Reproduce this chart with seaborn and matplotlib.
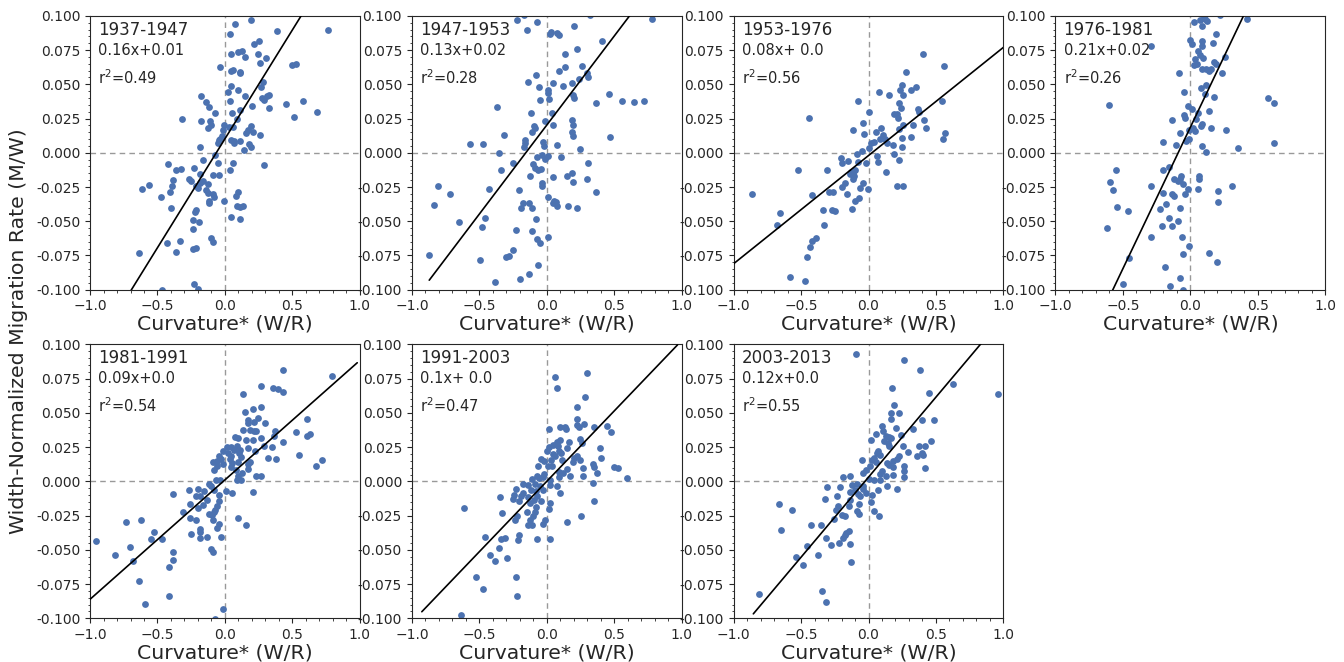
import numpy as np
import pandas as pd
import seaborn as sns
import matplotlib.pyplot as plt
from matplotlib.ticker import MultipleLocator

# periods and fit text
periods = ['1937-1947', '1947-1953', '1953-1976', '1976-1981', '1981-1991', '1991-2003', '2003-2013']
equations = ['0.16x+0.01', '0.13x+0.02', '0.08x+ 0.0', '0.21x+0.02', '0.09x+0.0', '0.1x+ 0.0', '0.12x+0.0']
r2_values = ['0.49', '0.28', '0.56', '0.26', '0.54', '0.47', '0.55']

# regression lines (slope, intercept) and the x span they cover
slopes = [0.159, 0.130, 0.079, 0.2065, 0.0872, 0.1028, 0.1169]
intercepts = [0.0102, 0.0202, -0.002, 0.0186, 0.0011, 0.0, 0.0031]
fit_xmin = [-1.0, -0.871, -1.0, -1.0, -1.0, -0.926, -0.854]
fit_xmax = [1.0, 0.782, 1.0, 1.0, 0.981, 0.97, 0.96]

# (curvature, migration rate) points per period
pts_1937 = [
    (0.193, 0.0968), (0.077, 0.094), (0.04, 0.087), (0.387, 0.089), (0.766, 0.0895), (0.218, 0.0796),
    (0.255, 0.0818), (0.045, 0.0725), (0.099, 0.0735), (0.124, 0.0747), (0.151, 0.0703), (0.243, 0.0725),
    (0.302, 0.0689), (0.263, 0.0657), (-0.035, 0.0625), (0.045, 0.0599), (0.062, 0.0603), (0.114, 0.0589),
    (0.114, 0.058), (0.496, 0.0642), (0.53, 0.065), (0.28, 0.0516), (0.045, 0.0489), (0.268, 0.0477),
    (0.099, 0.046), (0.02, 0.0443), (0.146, 0.0414), (-0.176, 0.0416), (0.273, 0.0401), (0.292, 0.0389),
    (0.325, 0.0423), (0.31, 0.0418), (-0.139, 0.037), (-0.117, 0.0333), (0.037, 0.0382), (0.198, 0.0345),
    (0.454, 0.0353), (0.582, 0.038), (0.112, 0.0314), (0.33, 0.0324), (-0.074, 0.0292), (0.052, 0.0292),
    (0.684, 0.0299), (0.51, 0.0258), (-0.32, 0.0248), (-0.181, 0.0229), (-0.114, 0.0234), (0.087, 0.0248),
    (-0.01, 0.0202), (-0.102, 0.02), (-0.124, 0.0182), (0.062, 0.0185), (0.032, 0.019), (0.193, 0.0195),
    (0.169, 0.017), (0.156, 0.0146), (0.211, 0.0153), (-0.017, 0.017), (-0.022, 0.0122), (-0.045, 0.0097),
    (0.045, 0.0097), (0.069, 0.0085), (0.112, 0.0085), (0.263, 0.0127), (0.181, 0.0061), (0.193, 0.0044),
    (0.141, 0.0017), (-0.05, 0.0073), (-0.035, 0.0102), (-0.186, 0.0041), (0.064, 0.0073), (-0.074, -0.0015),
    (-0.161, -0.0054), (-0.052, -0.0073), (0.062, -0.0071), (0.287, -0.0092), (-0.419, -0.0083), (-0.359, -0.0124),
    (-0.327, -0.0117), (-0.228, -0.0112), (0.037, -0.0122), (-0.183, -0.0156), (-0.087, -0.0161), (-0.047, -0.0165),
    (-0.27, -0.0195), (-0.253, -0.0209), (-0.382, -0.0197), (-0.161, -0.0207), (-0.183, -0.0221), (-0.216, -0.0243),
    (-0.129, -0.0231), (-0.203, -0.0255), (-0.563, -0.0236), (-0.612, -0.0263), (-0.389, -0.0246), (-0.404, -0.0285),
    (-0.139, -0.0275), (-0.124, -0.0292), (0.094, -0.0287), (-0.087, -0.0299), (-0.079, -0.0324), (0.082, -0.0316),
    (-0.476, -0.0321), (-0.119, -0.0353), (-0.117, -0.0363), (-0.005, -0.0355), (-0.397, -0.0401), (0.089, -0.0389),
    (0.134, -0.0389), (0.109, -0.0394), (-0.216, -0.0418), (-0.223, -0.0433), (0.045, -0.0467), (0.109, -0.0482),
    (-0.24, -0.0491), (-0.191, -0.0506), (-0.24, -0.056), (-0.104, -0.062), (-0.087, -0.065), (-0.426, -0.066),
    (-0.335, -0.0645), (-0.233, -0.0703), (-0.216, -0.0693), (-0.359, -0.0723), (-0.637, -0.0735), (-0.228, -0.0961),
    (-0.198, -0.0993), (-0.468, -0.1005),
]
pts_1947 = [
    (-0.223, 0.097), (-0.166, 0.1007), (-0.074, 0.0956), (-0.146, 0.0895), (0.318, 0.1003), (0.782, 0.0976),
    (0.201, 0.0924), (0.025, 0.0871), (0.03, 0.0883), (0.077, 0.0873), (0.089, 0.0863), (0.409, 0.082),
    (0.228, 0.0761), (0.132, 0.072), (0.136, 0.0629), (0.261, 0.0632), (0.089, 0.06), (0.298, 0.058),
    (-0.079, 0.0571), (0.308, 0.0556), (0.243, 0.0541), (-0.139, 0.052), (0.05, 0.0512), (0.189, 0.0507),
    (0.124, 0.0488), (-0.057, 0.048), (0.012, 0.0456), (0.012, 0.0434), (0.194, 0.042), (0.206, 0.04),
    (0.462, 0.0427), (0.02, 0.039), (-0.05, 0.0383), (0.558, 0.0376), (0.65, 0.0371), (0.722, 0.038),
    (0.362, 0.0361), (-0.367, 0.0337), (-0.117, 0.0293), (0.04, 0.0288), (-0.012, 0.0232), (0.191, 0.0237),
    (0.194, 0.0205), (0.047, 0.02), (-0.094, 0.0195), (-0.089, 0.0183), (-0.107, 0.0154), (0.191, 0.0154),
    (0.194, 0.0122), (-0.318, 0.0129), (0.467, 0.0117), (-0.164, 0.009), (-0.161, 0.0073), (-0.03, 0.0078),
    (-0.571, 0.0066), (-0.476, 0.0066), (-0.169, 0.0046), (-0.017, 0.0049), (0.074, 0.0054), (0.246, 0.0027),
    (-0.355, 0.0002), (-0.035, -0.0017), (0.007, -0.002), (-0.072, -0.0034), (-0.015, -0.0044), (0.107, -0.0034),
    (-0.251, -0.0078), (0.305, -0.0073), (-0.102, -0.0085), (-0.089, -0.011), (-0.062, -0.0122), (-0.042, -0.0115),
    (-0.342, -0.0122), (0.191, -0.0146), (0.149, -0.0166), (-0.124, -0.0166), (0.05, -0.018), (0.298, -0.0195),
    (0.196, -0.021), (-0.035, -0.022), (-0.032, -0.0239), (-0.809, -0.0239), (-0.429, -0.0266), (-0.206, -0.0273),
    (-0.717, -0.03), (0.367, -0.0288), (0.01, -0.032), (0.057, -0.0354), (0.072, -0.0359), (0.05, -0.0363),
    (-0.836, -0.0378), (-0.174, -0.0368), (-0.129, -0.0368), (-0.191, -0.0402), (-0.107, -0.0405), (0.077, -0.039),
    (0.156, -0.0385), (0.223, -0.0405), (-0.082, -0.048), (-0.454, -0.0478), (-0.648, -0.0502), (-0.481, -0.0544),
    (-0.228, -0.0566), (-0.109, -0.0568), (-0.072, -0.0629), (-0.05, -0.0659), (0.01, -0.0617), (-0.253, -0.0707),
    (-0.871, -0.0744), (-0.303, -0.0763), (-0.278, -0.0756), (-0.496, -0.0785), (-0.067, -0.0817), (-0.132, -0.0883),
    (-0.201, -0.0922), (-0.382, -0.0944),
]
pts_1953 = [
    (0.407, 0.0722), (0.556, 0.0637), (0.275, 0.059), (0.077, 0.0446), (0.151, 0.0424), (0.246, 0.0498),
    (0.233, 0.0459), (0.253, 0.042), (0.318, 0.0459), (0.352, 0.048), (-0.077, 0.038), (0.543, 0.038),
    (0.228, 0.0366), (0.243, 0.0324), (0.002, 0.03), (0.37, 0.0317), (0.372, 0.03), (0.191, 0.0285),
    (0.208, 0.028), (0.221, 0.0254), (-0.442, 0.0256), (0.414, 0.0239), (-0.042, 0.022), (0.253, 0.0205),
    (0.333, 0.02), (0.424, 0.0178), (0.092, 0.0183), (0.228, 0.0176), (-0.114, 0.0166), (0.055, 0.0151),
    (0.568, 0.0141), (-0.032, 0.0137), (0.109, 0.0127), (0.313, 0.0115), (0.246, 0.011), (0.122, 0.0102),
    (0.084, 0.0098), (0.551, 0.0098), (0.04, 0.0078), (0.022, 0.0068), (0.139, 0.0068), (0.184, 0.0056),
    (0.246, 0.0039), (0.002, 0.0034), (-0.052, 0.0012), (-0.089, -0.001), (0.191, -0.0012), (0.06, -0.0024),
    (-0.201, -0.0039), (-0.022, -0.0073), (-0.154, -0.0061), (-0.194, -0.0073), (-0.077, -0.0066), (0.067, -0.0066),
    (0.228, -0.0054), (-0.526, -0.0127), (-0.305, -0.0122), (0.129, -0.0137), (-0.127, -0.0137), (-0.099, -0.0127),
    (-0.114, -0.0146), (-0.139, -0.0154), (-0.109, -0.0171), (-0.117, -0.019), (-0.176, -0.0217), (-0.04, -0.0217),
    (-0.194, -0.0249), (0.208, -0.0244), (0.258, -0.0244), (-0.005, -0.0268), (-0.06, -0.0259), (-0.295, -0.0288),
    (-0.263, -0.0288), (-0.864, -0.0298), (-0.419, -0.0307), (-0.156, -0.0302), (-0.069, -0.0332), (-0.097, -0.0349),
    (-0.122, -0.0407), (-0.34, -0.042), (-0.273, -0.0415), (-0.248, -0.0422), (-0.655, -0.0437), (-0.68, -0.0527),
    (-0.333, -0.0527), (-0.392, -0.062), (-0.417, -0.0644), (-0.434, -0.0688), (-0.459, -0.0759), (-0.581, -0.0905),
    (-0.474, -0.0939),
]
pts_1976 = [
    (0.22, 0.1003), (0.101, 0.099), (0.124, 0.096), (0.025, 0.0956), (0.069, 0.097), (0.109, 0.098),
    (0.418, 0.0976), (0.087, 0.0927), (0.191, 0.0868), (-0.29, 0.078), (-0.002, 0.0827), (0.012, 0.0798),
    (0.087, 0.0815), (0.087, 0.0778), (0.168, 0.0805), (0.054, 0.0744), (0.037, 0.0683), (0.072, 0.0712),
    (0.092, 0.0695), (0.255, 0.0698), (0.178, 0.0663), (0.191, 0.0649), (0.027, 0.0644), (0.05, 0.0649),
    (0.084, 0.061), (0.116, 0.061), (0.136, 0.0595), (0.156, 0.061), (-0.082, 0.058), (0.235, 0.0583),
    (0.119, 0.0493), (0.077, 0.0476), (-0.045, 0.0444), (0.106, 0.0427), (0.178, 0.0405), (0.579, 0.0398),
    (0.619, 0.0361), (-0.604, 0.0346), (-0.02, 0.0339), (0.012, 0.0322), (0.136, 0.0302), (0.054, 0.0293),
    (-0.05, 0.0276), (-0.037, 0.0254), (-0.134, 0.0237), (0.042, 0.0244), (0.084, 0.0207), (0.077, 0.0195),
    (0.153, 0.0178), (0.262, 0.017), (0.022, 0.0178), (0.037, 0.0159), (-0.079, 0.0144), (-0.007, 0.0166),
    (-0.012, 0.0098), (-0.032, 0.0085), (-0.2, 0.008), (-0.106, 0.0056), (0.087, 0.0049), (0.114, 0.0005),
    (0.354, 0.0032), (0.619, 0.0068), (-0.552, -0.0127), (-0.2, -0.0122), (-0.156, -0.0107), (-0.067, -0.0166),
    (-0.121, -0.0195), (-0.094, -0.0207), (-0.077, -0.0195), (0.067, -0.0171), (0.062, -0.0195), (-0.057, -0.0227),
    (-0.597, -0.0212), (-0.572, -0.0271), (-0.292, -0.0244), (-0.02, -0.0261), (0.054, -0.0268), (0.309, -0.0244),
    (0.203, -0.0278), (-0.2, -0.0293), (-0.134, -0.03), (-0.121, -0.0317), (-0.037, -0.0298), (0.203, -0.0361),
    (-0.181, -0.0376), (-0.545, -0.0398), (-0.074, -0.04), (-0.465, -0.0424), (-0.223, -0.0412), (-0.156, -0.0476),
    (-0.094, -0.05), (-0.139, -0.0532), (-0.208, -0.0537), (-0.621, -0.0546), (-0.295, -0.0612), (-0.062, -0.0617),
    (-0.007, -0.0683), (-0.052, -0.0737), (0.141, -0.0732), (-0.455, -0.0768), (0.198, -0.0798), (-0.186, -0.0837),
    (-0.077, -0.0917), (-0.5, -0.0959), (-0.151, -0.0976), (-0.052, -0.1003),
]
pts_1981 = [
    (0.429, 0.0817), (0.793, 0.0773), (0.27, 0.07), (0.354, 0.0685), (0.392, 0.0676), (0.434, 0.0654),
    (0.136, 0.0639), (0.265, 0.0541), (0.206, 0.0532), (0.146, 0.051), (0.61, 0.0454), (0.169, 0.0451),
    (0.245, 0.0463), (0.174, 0.0427), (0.218, 0.0432), (0.3, 0.0424), (0.131, 0.0378), (0.188, 0.0378),
    (0.218, 0.0371), (0.232, 0.0371), (0.372, 0.0371), (0.53, 0.0363), (0.364, 0.0329), (0.634, 0.0349),
    (0.61, 0.0329), (0.074, 0.0327), (0.094, 0.032), (0.156, 0.0305), (0.211, 0.0305), (0.27, 0.0315),
    (0.429, 0.0288), (0.292, 0.0261), (0.347, 0.0251), (0.087, 0.0261), (0.012, 0.0251), (0.045, 0.0251),
    (0.069, 0.0232), (0.114, 0.0227), (0.174, 0.0244), (0.223, 0.022), (-0.012, 0.022), (0.02, 0.0207),
    (0.107, 0.0207), (0.045, 0.0188), (0.119, 0.0178), (0.548, 0.0195), (-0.047, 0.0183), (0.317, 0.0173),
    (0.379, 0.0161), (0.721, 0.0154), (-0.03, 0.0163), (0.037, 0.0163), (-0.059, 0.0151), (0.188, 0.0141),
    (-0.092, 0.0139), (0.052, 0.0134), (0.094, 0.0141), (-0.017, 0.0127), (0.169, 0.0127), (0.672, 0.011),
    (-0.055, 0.011), (-0.079, 0.0085), (0.045, 0.0105), (0.082, 0.0085), (0.174, 0.009), (0.126, 0.0061),
    (0.23, 0.0037), (0.268, 0.0041), (0.094, 0.0041), (0.087, 0.0012), (0.119, 0.0012), (-0.067, 0.0012),
    (-0.04, 0.0012), (-0.121, -0.0017), (-0.104, -0.0037), (-0.265, -0.0066), (-0.196, -0.0056), (-0.154, -0.0073),
    (-0.079, -0.0061), (0.01, -0.0073), (0.05, -0.0085), (0.206, -0.008), (-0.387, -0.0095), (-0.042, -0.0102),
    (-0.183, -0.011), (-0.216, -0.011), (-0.134, -0.0139), (-0.042, -0.0146), (-0.258, -0.0163), (-0.166, -0.0171),
    (-0.055, -0.0183), (-0.203, -0.0195), (-0.072, -0.0207), (-0.079, -0.0227), (-0.31, -0.0227), (-0.117, -0.0237),
    (-0.097, -0.0249), (0.094, -0.0268), (-0.258, -0.0271), (-0.216, -0.0285), (-0.089, -0.028), (-0.731, -0.03),
    (-0.62, -0.0283), (-0.047, -0.0312), (-0.055, -0.0337), (0.156, -0.032), (-0.188, -0.0349), (-0.183, -0.0368),
    (-0.525, -0.0371), (-0.248, -0.0383), (-0.136, -0.0407), (-0.183, -0.0417), (-0.03, -0.0405), (-0.545, -0.042),
    (-0.468, -0.0424), (-0.959, -0.0432), (-0.706, -0.0478), (-0.102, -0.0493), (-0.087, -0.0517), (-0.384, -0.0517),
    (-0.818, -0.0534), (-0.679, -0.0583), (-0.384, -0.0573), (-0.414, -0.0624), (-0.639, -0.0729), (-0.414, -0.0839),
    (-0.595, -0.0895), (-0.017, -0.0932), (-0.072, -0.1003),
]
pts_1991 = [
    (0.3, 0.0795), (0.06, 0.0763), (0.077, 0.068), (0.283, 0.062), (0.228, 0.0544), (0.228, 0.0454),
    (0.273, 0.0422), (0.228, 0.0415), (0.243, 0.0398), (0.347, 0.0398), (0.447, 0.0402), (0.102, 0.0398),
    (0.136, 0.0398), (0.144, 0.0385), (0.017, 0.0383), (0.476, 0.0359), (0.248, 0.031), (0.102, 0.03),
    (0.074, 0.029), (0.166, 0.029), (0.261, 0.028), (0.05, 0.0268), (0.084, 0.0261), (0.02, 0.0251),
    (0.154, 0.0241), (0.392, 0.0241), (0.005, 0.0222), (0.089, 0.0224), (0.109, 0.0207), (0.05, 0.0202),
    (0.065, 0.0183), (0.223, 0.0188), (0.199, 0.0171), (0.402, 0.0173), (0.246, 0.0154), (-0.042, 0.0166),
    (-0.022, 0.0146), (0.032, 0.0156), (0.112, 0.0154), (0.196, 0.0144), (0.342, 0.0127), (0.347, 0.0105),
    (0.496, 0.0105), (0.526, 0.01), (-0.062, 0.0115), (0.012, 0.011), (0.037, 0.011), (0.154, 0.009),
    (0.27, 0.0098), (0.089, 0.0071), (0.372, 0.0061), (-0.074, 0.0041), (-0.017, 0.0056), (0.124, 0.0061),
    (0.169, 0.0037), (0.27, 0.0037), (0.598, 0.0024), (-0.109, 0.0017), (-0.055, 0.0024), (-0.025, 0.0032),
    (0.025, 0.0007), (0.089, 0.0029), (-0.174, -0.0017), (-0.141, -0.0027), (-0.087, -0.0022), (-0.052, -0.0032),
    (0.025, -0.0027), (0.079, -0.0037), (0.342, -0.0012), (-0.228, -0.0054), (-0.117, -0.0061), (-0.082, -0.0071),
    (-0.03, -0.0066), (0.099, -0.0085), (-0.174, -0.0085), (-0.243, -0.0098), (-0.189, -0.011), (-0.347, -0.0115),
    (-0.136, -0.0115), (-0.072, -0.011), (-0.092, -0.0134), (-0.042, -0.0146), (-0.248, -0.0129), (-0.208, -0.0144),
    (-0.124, -0.0159), (0.027, -0.0156), (0.35, -0.0144), (-0.61, -0.0193), (-0.079, -0.0188), (0.02, -0.02),
    (-0.149, -0.0222), (-0.084, -0.022), (-0.328, -0.0232), (-0.223, -0.0256), (-0.104, -0.0256), (0.256, -0.0251),
    (-0.233, -0.0285), (-0.124, -0.0285), (-0.012, -0.0285), (0.151, -0.0295), (-0.136, -0.0317), (-0.112, -0.0317),
    (-0.025, -0.0312), (-0.206, -0.0395), (-0.211, -0.0427), (-0.313, -0.0412), (-0.337, -0.042), (-0.457, -0.0407),
    (-0.074, -0.0422), (0.022, -0.0422), (-0.352, -0.0485), (-0.419, -0.0539), (-0.382, -0.058), (-0.298, -0.0561),
    (-0.521, -0.0695), (-0.228, -0.0695), (-0.476, -0.0785), (-0.223, -0.0837), (-0.635, -0.0976),
]
pts_2003 = [
    (-0.092, 0.0932), (0.266, 0.089), (0.38, 0.081), (0.628, 0.071), (0.96, 0.0639), (0.452, 0.0649),
    (0.171, 0.068), (0.186, 0.0556), (0.228, 0.0502), (0.166, 0.0498), (0.166, 0.0456), (0.395, 0.0449),
    (0.489, 0.0449), (0.201, 0.0393), (0.102, 0.0405), (0.109, 0.0366), (0.328, 0.0383), (0.022, 0.0305),
    (0.052, 0.0349), (0.129, 0.0334), (0.151, 0.0324), (0.166, 0.0315), (0.117, 0.0293), (0.141, 0.0278),
    (0.241, 0.0339), (0.464, 0.0298), (0.377, 0.0261), (0.422, 0.0261), (0.253, 0.0256), (0.154, 0.0256),
    (0.074, 0.0224), (0.06, 0.0207), (0.084, 0.0195), (0.295, 0.0212), (0.36, 0.0183), (0.404, 0.0195),
    (0.395, 0.0207), (0.228, 0.0183), (0.208, 0.0163), (0.179, 0.0146), (-0.05, 0.0156), (0.027, 0.0154),
    (0.04, 0.0173), (0.055, 0.0141), (0.134, 0.0134), (0.149, 0.0122), (0.266, 0.011), (0.422, 0.0098),
    (0.184, 0.0105), (0.012, 0.011), (-0.017, 0.0085), (0.097, 0.0073), (0.084, 0.0054), (0.266, 0.0078),
    (-0.04, 0.0061), (0.179, 0.0044), (0.266, 0.0029), (0.129, 0.0037), (-0.134, 0.0041), (-0.189, 0.0032),
    (0.002, 0.0017), (0.04, 0.0012), (0.084, 0.0007), (-0.082, -0.0017), (-0.124, -0.0029), (-0.04, -0.0032),
    (0.134, -0.0037), (-0.308, -0.0039), (-0.213, -0.0041), (0.208, -0.0056), (0.074, -0.0061), (-0.04, -0.0056),
    (-0.102, -0.0061), (-0.134, -0.008), (-0.077, -0.0093), (-0.015, -0.0085), (-0.06, -0.011), (-0.233, -0.0105),
    (0.027, -0.0102), (-0.323, -0.0129), (-0.139, -0.0134), (0.017, -0.0151), (-0.072, -0.0163), (-0.667, -0.0163),
    (-0.226, -0.0183), (-0.146, -0.0183), (-0.241, -0.0207), (-0.089, -0.0215), (0.042, -0.0215), (-0.571, -0.021),
    (-0.069, -0.0239), (-0.194, -0.0249), (-0.171, -0.0251), (0.077, -0.0256), (-0.256, -0.0276), (-0.429, -0.0317),
    (-0.352, -0.032), (-0.648, -0.0356), (-0.144, -0.0363), (-0.164, -0.0378), (-0.174, -0.0395), (-0.186, -0.0415),
    (-0.315, -0.0415), (-0.216, -0.0449), (-0.139, -0.0459), (-0.278, -0.0463), (-0.454, -0.0473), (-0.541, -0.0549),
    (-0.375, -0.0539), (-0.127, -0.059), (-0.484, -0.0612), (-0.345, -0.08), (-0.809, -0.082), (-0.318, -0.088),
]
all_points = [pts_1937, pts_1947, pts_1953, pts_1976, pts_1981, pts_1991, pts_2003]

sns.set_style('ticks')
plt.rcParams['font.family'] = ['DejaVu Sans']
plt.rcParams['xtick.major.size'] = 3.5
plt.rcParams['ytick.major.size'] = 3.5
plt.rcParams['xtick.minor.size'] = 1.8
plt.rcParams['ytick.minor.size'] = 1.8
plt.rcParams['xtick.labelsize'] = 10
plt.rcParams['ytick.labelsize'] = 10

fig, axes = plt.subplots(2, 4, figsize=(13.44, 6.62), dpi=100)
fig.subplots_adjust(left=0.067, right=0.986, top=0.976, bottom=0.066, wspace=0.193, hspace=0.2)
axes = axes.flatten()
axes[7].remove()

for i in range(7):
    ax = axes[i]
    df = pd.DataFrame(all_points[i], columns=['curv', 'mig'])
    ax.axhline(0, color='#999999', lw=1, ls='--', dashes=(4, 3), zorder=1)
    ax.axvline(0, color='#999999', lw=1, ls='--', dashes=(4, 3), zorder=1)
    sns.scatterplot(data=df, x='curv', y='mig', ax=ax, color='#4C72B0', s=24,
                    linewidth=0, zorder=2)
    xf = np.array([fit_xmin[i], fit_xmax[i]])
    ax.plot(xf, slopes[i] * xf + intercepts[i], color='black', lw=1.2, zorder=3)

    ax.set_xlim(-1, 1)
    ax.set_ylim(-0.1, 0.1)
    ax.xaxis.set_major_locator(MultipleLocator(0.5))
    ax.xaxis.set_minor_locator(MultipleLocator(0.1))
    ax.yaxis.set_major_locator(MultipleLocator(0.025))
    ax.yaxis.set_minor_locator(MultipleLocator(0.005))
    ax.yaxis.set_major_formatter(plt.FormatStrFormatter('%.3f'))
    ax.set_xlabel('Curvature* (W/R)', fontsize=14.7, labelpad=1)
    ax.set_ylabel('')

    ax.text(0.03, 0.95, periods[i], transform=ax.transAxes, fontsize=12, va='center', ha='left')
    ax.text(0.03, 0.875, equations[i], transform=ax.transAxes, fontsize=10.5, va='center', ha='left')
    ax.text(0.03, 0.775, 'r$^2$=' + r2_values[i], transform=ax.transAxes, fontsize=10.5, va='center', ha='left')

fig.text(0.0135, 0.5, 'Width-Normalized Migration Rate (M/W)', rotation=90,
         va='center', ha='center', fontsize=14.7, color='#262626')

plt.savefig('out.png', dpi=100)
